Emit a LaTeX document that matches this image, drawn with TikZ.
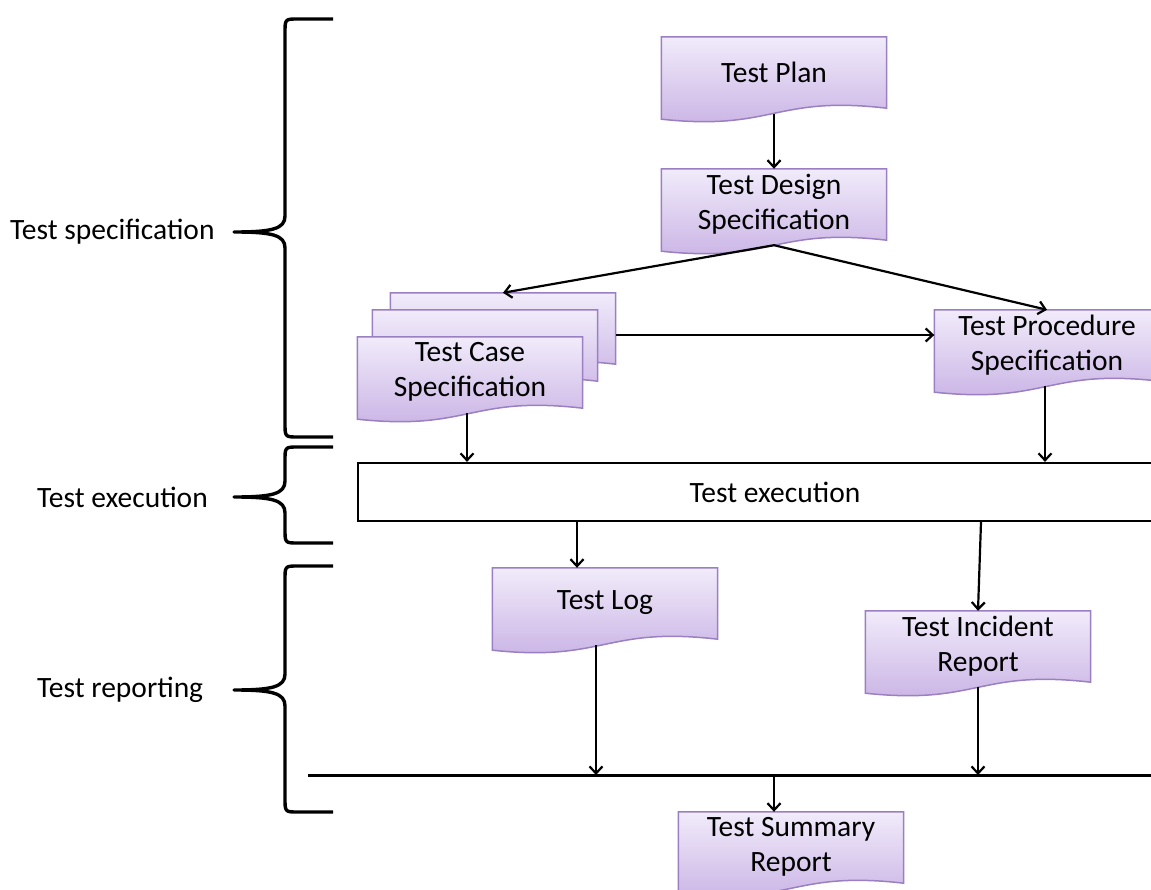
\documentclass[tikz,border=0pt]{standalone}
\usepackage{fontspec}
\setmainfont{Carlito}
\usetikzlibrary{arrows.meta,backgrounds}

\definecolor{docTop}{HTML}{F1EBFA}
\definecolor{docBot}{HTML}{C8B1E4}
\definecolor{docEdge}{HTML}{9A80C3}

\tikzset{
  doc/.style={minimum width=225pt, minimum height=70pt, inner sep=0pt, align=center},
  docline/.style={draw=docEdge, line width=1.5pt, top color=docTop, bottom color=docBot},
  conn/.style={line width=2.2pt, -{Straight Barb[length=7pt,width=13pt]}},
  bracestyle/.style={line width=3.4pt, line join=round},
}

% curly bracket from #1 down to #3, tip at #2
\newcommand{\phasebrace}[3]{%
  \draw [bracestyle] (333,#1) -- (298,#1) .. controls (285,#1) .. (285,{#1+14})
    -- (285,{#2-16}) .. controls (285,{#2-3}) and (272,#2) .. (234,#2)
    .. controls (272,#2) and (285,{#2+3}) .. (285,{#2+16})
    -- (285,{#3-14}) .. controls (285,#3) .. (298,#3) -- (333,#3);}

\begin{document}
\begin{tikzpicture}[x=1pt, y=-1pt, font=\fontsize{29.5}{35}\selectfont]
\useasboundingbox (0,0) rectangle (1151,890);
\clip (0,0) rectangle (1151,890);

\node [doc] (plan) at (774,72) {Test Plan};
\node [doc] (design) at (774,204) {Test Design\\Specification};
\node [doc] (caseA) at (503,328) {};
\node [doc] (caseB) at (485,345) {};
\node [doc] (caseC) at (470,372) {Test Case\\Specification};
\node [doc] (proc) at (1047,345) {Test Procedure\\Specification};
\node [draw, line width=2.2pt, minimum width=834pt, minimum height=58pt] (exec) at (775,492) {Test execution};
\node [doc] (log) at (605,603) {Test Log};
\node [doc] (incident) at (978,646) {Test Incident\\Report};
\node [doc] (summary) at (791,847) {Test Summary\\Report};

\begin{scope}[on background layer]
\foreach \n in {caseA,caseB,caseC,plan,design,proc,log,incident,summary}
  \draw [docline] (\n.north west) -- (\n.north east) -- ([yshift=-1pt]\n.south east)
    .. controls ([yshift=12pt]\n.south) and ([yshift=-24pt]\n.south) .. ([yshift=-12pt]\n.south west) -- cycle;
\end{scope}

\node [anchor=west, inner sep=0pt] (lspec) at (10,232) {Test specification};
\node [anchor=west, inner sep=0pt] (lexec) at (37,497) {Test execution};
\node [anchor=west, inner sep=0pt] (lrep) at (37,690) {Test reporting};

\phasebrace{19}{232}{437}
\phasebrace{447}{497}{543}
\phasebrace{566}{690}{812}

\coordinate (planout) at ([yshift=-7pt]plan.south);
\coordinate (designout) at ([yshift=-6pt]design.south);
\coordinate (caseout) at ([xshift=-3pt,yshift=-6pt]caseC.south);
\coordinate (procout) at ([xshift=-2pt,yshift=-6pt]proc.south);
\coordinate (login) at ([xshift=-28pt]log.north);
\coordinate (logout) at ([xshift=-9pt,yshift=-7pt]log.south);
\coordinate (incout) at ([yshift=-6pt]incident.south);
\coordinate (incin) at ([xshift=3pt]incident.north);
\coordinate (stackout) at ([yshift=-7pt]caseA.east);
\coordinate (busL) at (308,775);
\coordinate (busR) at (1160,775);

\draw [conn] (planout) -- (design.north);
\draw [conn] (designout) -- (caseA.north);
\draw [conn] (designout) -- (proc.north);
\draw [conn] (stackout) -- (stackout -| proc.west);
\draw [conn] (caseout) -- (caseout |- exec.north);
\draw [conn] (procout) -- (procout |- exec.north);
\draw [conn] (login |- exec.south) -- (login);
\draw [conn] (incin |- exec.south) -- (incident.north);

\draw [line width=3pt] (busL) -- (busR);
\draw [conn] (logout) -- (logout |- busL);
\draw [conn] (incout) -- (incout |- busL);
\draw [conn] (busL -| plan.south) -- (summary.north -| plan.south);
\end{tikzpicture}
\end{document}
